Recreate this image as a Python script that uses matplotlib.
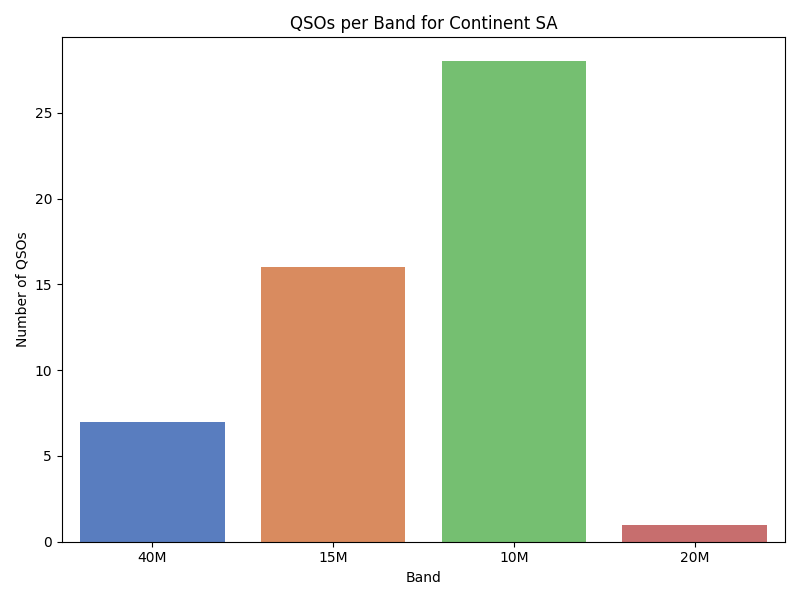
import matplotlib
matplotlib.use("Agg")
import matplotlib.pyplot as plt
import seaborn as sns

bands = ["40M", "15M", "10M", "20M"]
counts = [7, 16, 28, 1]

fig, ax = plt.subplots(figsize=(8, 6), dpi=100)
sns.barplot(x=bands, y=counts, hue=bands, palette="muted", legend=False, ax=ax)
ax.set_title("QSOs per Band for Continent SA")
ax.set_xlabel("Band")
ax.set_ylabel("Number of QSOs")
fig.tight_layout()
fig.savefig("out.png")
